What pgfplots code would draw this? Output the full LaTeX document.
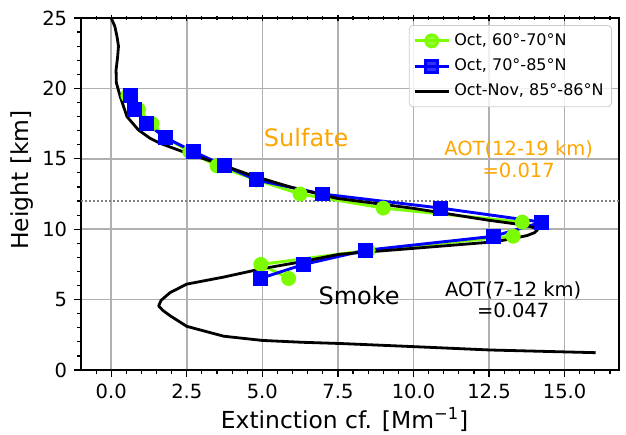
\documentclass[border=0pt]{standalone}
\usepackage{fontspec}
\setmainfont{DejaVu Sans}
\usepackage{pgfplots}
\pgfplotsset{compat=1.18}
\definecolor{lgreen}{RGB}{124,252,0}
\definecolor{mblue}{RGB}{0,0,255}
\definecolor{orng}{RGB}{255,165,0}
\definecolor{gridc}{RGB}{176,176,176}
\begin{document}
\begin{tikzpicture}
\begin{axis}[
  at={(0,0)}, anchor=south west,
  scale only axis, width=269pt, height=176pt,
  xmin=-1, xmax=16.8, ymin=0, ymax=25,
  xtick={0,2.5,5,7.5,10,12.5,15},
  xticklabels={0.0,2.5,5.0,7.5,10.0,12.5,15.0},
  ytick={0,5,10,15,20,25},
  yticklabels={0,5,10,15,20,25},
  minor xtick={-0.5,0,...,16.5},
  minor ytick={0,1,...,25},
  xtick pos=left, ytick pos=left,
  tick align=outside,
  major tick length=3.4pt, minor tick length=1.95pt,
  every tick/.style={black, line width=0.6pt},
  grid=major, major grid style={gridc, line width=0.75pt},
  axis line style={line width=0.75pt},
  tick label style={font=\fontsize{9.75}{11}\selectfont},
  xlabel={Extinction cf. [Mm\textsuperscript{−1}]},
  ylabel={Height [km]},
  xlabel style={at={(ticklabel cs:0.49)}, anchor=near ticklabel, font=\fontsize{11.7}{13}\selectfont, inner sep=1pt},
  ylabel style={at={(ticklabel cs:0.54)}, anchor=near ticklabel, font=\fontsize{11.7}{13}\selectfont, inner sep=1pt},
  legend style={at={(rel axis cs:1,1)}, anchor=north east, xshift=-3.5pt, yshift=-3.5pt,
    draw=black!20, rounded corners=2pt, fill=white, fill opacity=0.8, text opacity=1,
    font=\fontsize{8}{9.6}\selectfont, row sep=1.2pt, inner sep=2pt},
  legend cell align=left,
]
\draw[gray, densely dotted, line width=1pt] (axis cs:-1,12) -- (axis cs:16.8,12);
\addplot[lgreen, line width=1.45pt, mark=*, mark size=3pt, mark options={fill=lgreen, draw=lgreen}] coordinates {
(0.55,19.5)(0.9,18.5)(1.35,17.5)(1.8,16.5)(2.6,15.5)(3.5,14.5)(4.8,13.5)(6.25,12.5)(9.0,11.5)(13.6,10.5)(13.3,9.5)(8.5,8.5)(4.95,7.5)(5.87,6.5)
};
\addlegendentry{Oct, 60°-70°N}
\addplot[mblue, line width=1.45pt, mark=square*, mark size=3pt, mark options={fill=mblue, draw=mblue}] coordinates {
(0.63,19.5)(0.77,18.5)(1.18,17.5)(1.79,16.5)(2.73,15.5)(3.75,14.5)(4.8,13.5)(6.98,12.5)(10.9,11.5)(14.25,10.5)(12.66,9.5)(8.41,8.5)(6.37,7.5)(4.93,6.5)
};
\addlegendentry{Oct, 70°-85°N}
\addplot[black, line width=1.4pt, line join=round] coordinates {
(0.0,25.0)(0.12,24.4)(0.19,23.7)(0.24,23.0)(0.21,22.2)(0.16,21.3)(0.17,20.4)(0.3,19.4)(0.52,18.0)(0.9,17.05)(1.29,16.45)(1.62,16.1)(2.5,15.4)(3.5,14.7)(4.6,13.85)(6.0,12.95)(7.47,12.19)(10.0,11.48)(12.44,10.65)(13.3,10.4)(13.76,10.25)(14.0,10.1)(14.1,9.94)(14.0,9.75)(13.76,9.55)(13.2,9.3)(12.66,9.1)(10.0,8.64)(7.55,8.22)(6.2,7.65)(5.0,7.2)(3.72,6.6)(2.5,6.1)(1.95,5.5)(1.65,4.95)(1.57,4.55)(1.7,4.25)(1.95,3.85)(2.5,3.1)(3.72,2.4)(5.0,2.1)(6.3,1.97)(7.6,1.88)(10.0,1.66)(12.55,1.42)(16.03,1.23)
};
\addlegendentry{Oct-Nov, 85°-86°N}
\node[orng, font=\fontsize{12}{14}\selectfont] at (axis cs:6.45,16.5) {Sulfate};
\node[orng, font=\fontsize{9.75}{10.8}\selectfont, align=center] at (axis cs:13.48,14.95) {AOT(12-19 km)\\=0.017};
\node[black, font=\fontsize{12}{14}\selectfont] at (axis cs:8.2,5.3) {Smoke};
\node[black, font=\fontsize{9.75}{10.8}\selectfont, align=center] at (axis cs:13.3,5.0) {AOT(7-12 km)\\=0.047};
\end{axis}
\begin{axis}[
  at={(0,0)}, anchor=south west,
  scale only axis, width=269pt, height=176pt,
  xmin=-1, xmax=16.8, ymin=0, ymax=25,
  axis x line*=top, hide y axis,
  xtick={0,2.5,5,7.5,10,12.5,15}, xticklabels={},
  minor xtick={-0.5,0,...,16.5},
  tick align=center,
  major tick length=3.4pt, minor tick length=1.95pt,
  every tick/.style={black, line width=0.6pt},
  axis line style={line width=0.75pt},
]
\addplot[draw=none] coordinates {(0,0)};
\end{axis}
\pgfresetboundingbox
\path[use as bounding box] (-40.5pt,-32pt) rectangle (272.5pt,185pt);
\end{tikzpicture}
\end{document}
